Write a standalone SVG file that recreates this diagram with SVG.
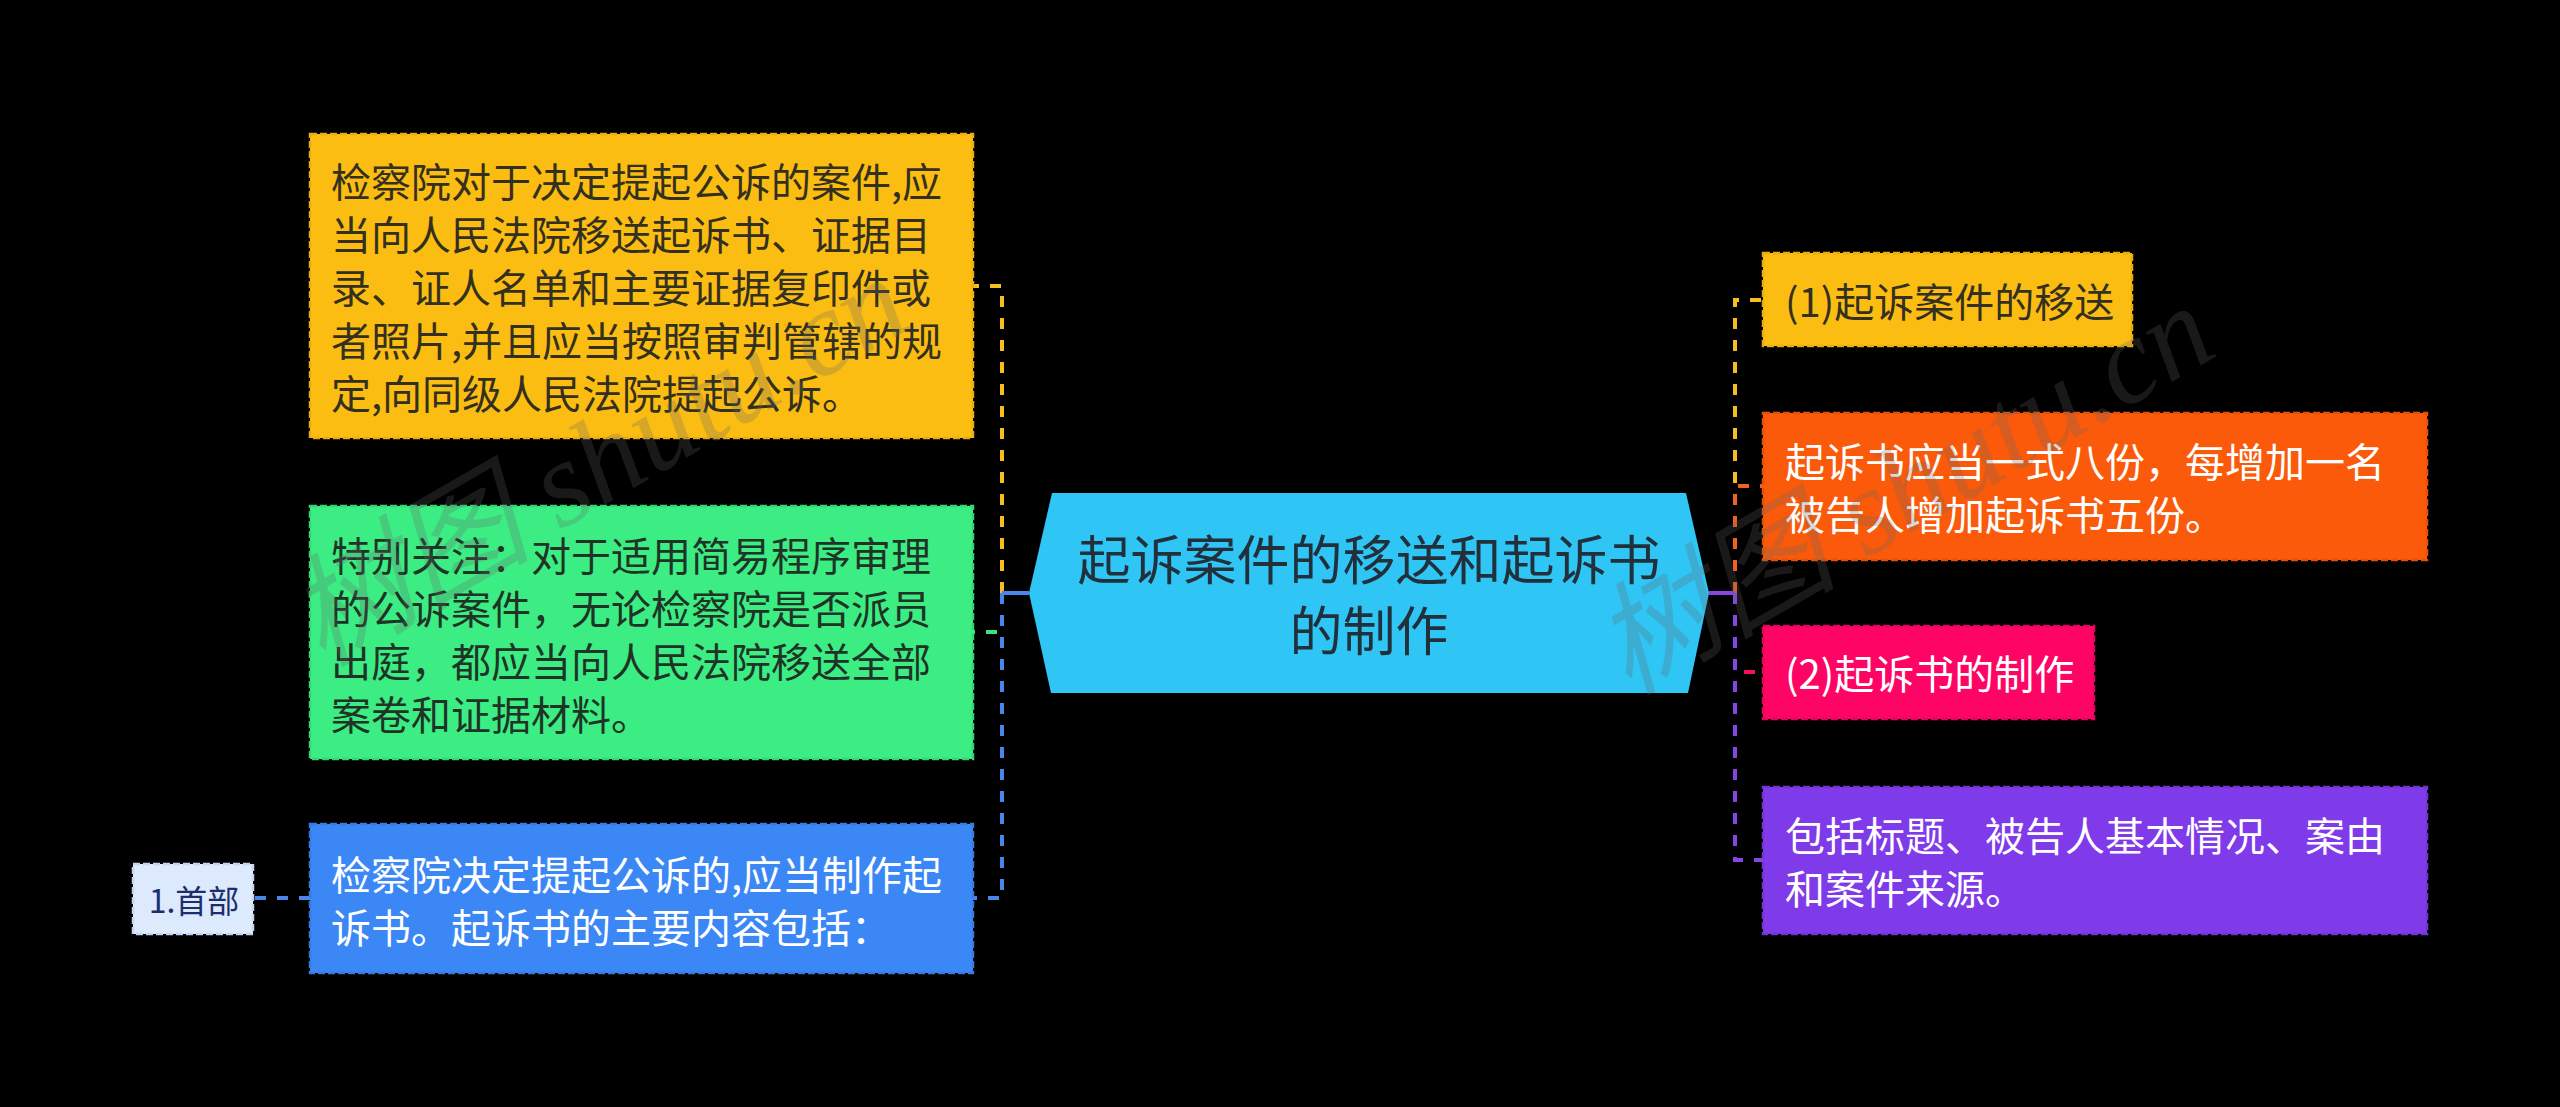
<svg xmlns="http://www.w3.org/2000/svg" width="2560" height="1107" viewBox="0 0 2560 1107">
<style>
.t{font-family:"Noto Sans CJK SC","Noto Sans",sans-serif;font-size:40px;dominant-baseline:central}
.dk{fill:#33301f}
.dg{fill:#1f3327}
.wh{fill:#ffffff}
.box{stroke-width:2.5;stroke-dasharray:7 3}
.con{fill:none;stroke-width:4;stroke-dasharray:11 11}
.wm{font-family:"Liberation Serif","Noto Sans CJK SC",serif;font-style:italic;font-size:122px;fill:#666666;opacity:0.25}
</style>
<rect x="0" y="0" width="2560" height="1107" fill="#000000"/>

<g id="connectors">
  <path class="con" d="M1002,593 V286 H973" stroke="#f5bf22"/>
  <path class="con" d="M1002,593 V632 H973" stroke="#3ce27f"/>
  <path class="con" d="M1002,593 V898 H973" stroke="#4a86ea"/>
  <path d="M1029,593 H1002" stroke="#4a86ea" stroke-width="4" fill="none"/>
  <path class="con" d="M310,898 H253" stroke="#4a86ea"/>
  <path class="con" d="M1735,593 V300 H1763" stroke="#f5bf22"/>
  <path class="con" d="M1735,593 V486 H1763" stroke="#f0621d"/>
  <path class="con" d="M1735,593 V672 H1763" stroke="#f0145f"/>
  <path class="con" d="M1735,593 V860 H1763" stroke="#8844e4"/>
  <path d="M1709,593 H1735" stroke="#8844e4" stroke-width="4" fill="none"/>
</g>

<g id="center">
  <polygon points="1052,493 1686,493 1709,593 1688,693 1051,693 1029,593" fill="#2fc5f5"/>
  <text class="t" x="1369" y="557" text-anchor="middle" style="font-size:53px" fill="#22303b">起诉案件的移送和起诉书</text>
  <text class="t" x="1369" y="628" text-anchor="middle" style="font-size:53px" fill="#22303b">的制作</text>
</g>

<g id="left-yellow">
  <rect class="box" x="310" y="134" width="663" height="304" fill="#fcbd13" stroke="#e8ad10"/>
  <text class="t dk" x="331" y="180">检察院对于决定提起公诉的案件,应</text>
  <text class="t dk" x="331" y="233">当向人民法院移送起诉书、证据目</text>
  <text class="t dk" x="331" y="286">录、证人名单和主要证据复印件或</text>
  <text class="t dk" x="331" y="339">者照片,并且应当按照审判管辖的规</text>
  <text class="t dk" x="331" y="392">定,向同级人民法院提起公诉。</text>
</g>

<g id="left-green">
  <rect class="box" x="310" y="506" width="663" height="253" fill="#3ced83" stroke="#33d474"/>
  <text class="t dg" x="331" y="554">特别关注：对于适用简易程序审理</text>
  <text class="t dg" x="331" y="607">的公诉案件，无论检察院是否派员</text>
  <text class="t dg" x="331" y="660">出庭，都应当向人民法院移送全部</text>
  <text class="t dg" x="331" y="713">案卷和证据材料。</text>
</g>

<g id="left-blue">
  <rect class="box" x="310" y="824" width="663" height="149" fill="#3b87f5" stroke="#357bdf"/>
  <text class="t wh" x="331" y="873">检察院决定提起公诉的,应当制作起</text>
  <text class="t wh" x="331" y="926">诉书。起诉书的主要内容包括：</text>
</g>

<g id="head">
  <rect class="box" x="133" y="864" width="120" height="70" fill="#dde9fc" stroke="#c3d5f2"/>
  <text class="t" x="194" y="899" text-anchor="middle" style="font-size:32px" fill="#1b2e6e">1.首部</text>
</g>

<g id="right-yellow">
  <rect class="box" x="1763" y="253" width="369" height="93" fill="#fcbd13" stroke="#e8ad10"/>
  <text class="t dk" x="1785" y="300">(1)起诉案件的移送</text>
</g>

<g id="right-orange">
  <rect class="box" x="1763" y="413" width="664" height="147" fill="#fb5a0b" stroke="#e4520a"/>
  <text class="t wh" x="1785" y="460">起诉书应当一式八份，每增加一名</text>
  <text class="t wh" x="1785" y="513">被告人增加起诉书五份。</text>
</g>

<g id="right-pink">
  <rect class="box" x="1763" y="626" width="331" height="93" fill="#fe0465" stroke="#e5045b"/>
  <text class="t wh" x="1785" y="672">(2)起诉书的制作</text>
</g>

<g id="right-purple">
  <rect class="box" x="1763" y="787" width="664" height="147" fill="#7f3ae9" stroke="#7234d4"/>
  <text class="t wh" x="1785" y="834">包括标题、被告人基本情况、案由</text>
  <text class="t wh" x="1785" y="887">和案件来源。</text>
</g>

<g id="watermarks">
  <text class="wm" x="322" y="668" transform="rotate(-30 322 668)">树图 shutu.cn</text>
  <text class="wm" x="1628" y="696" transform="rotate(-30 1628 696)">树图 shutu.cn</text>
</g>
</svg>
